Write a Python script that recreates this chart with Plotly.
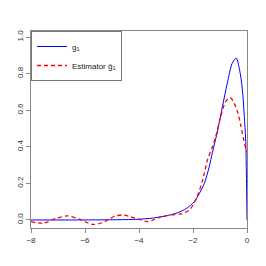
import plotly.graph_objects as go

# True density g1
x_true = [-8, -6, -5, -4.5, -4, -3.5, -3.17, -3.0, -2.56, -2.25, -1.95, -1.76, -1.58, -1.4,
          -1.28, -1.1, -0.91, -0.73, -0.55, -0.4, -0.25, -0.157, -0.1, -0.048, 0]
g1 = [0, 0, 0.001, 0.002, 0.004, 0.01, 0.018, 0.022, 0.04, 0.062, 0.10, 0.146, 0.20, 0.29,
      0.37, 0.48, 0.62, 0.747, 0.856, 0.885, 0.80, 0.69, 0.565, 0.437, 0.0]

# Estimator
x_est = [-8, -7.55, -7.06, -6.64, -6.21, -5.72, -5.36, -5.11, -4.87, -4.6, -4.32, -4.02, -3.71,
         -3.47, -3.17, -2.80, -2.44, -2.13, -1.95, -1.80, -1.64, -1.46, -1.28, -1.16, -0.975,
         -0.79, -0.61, -0.37, -0.22, -0.12, -0.025, 0]
g1_hat = [-0.009, -0.018, 0.009, 0.022, 0.004, -0.024, -0.015, 0.005, 0.022, 0.027, 0.018, 0.004,
          -0.009, 0.0, 0.018, 0.027, 0.033, 0.055, 0.095, 0.146, 0.22, 0.33, 0.40, 0.455, 0.565,
          0.647, 0.668, 0.60, 0.51, 0.437, 0.38, 0.37]

x_ticks = [-8, -6, -4, -2, 0]
y_ticks = [0.0, 0.2, 0.4, 0.6, 0.8, 1.0]

FONT = "Liberation Sans, Arial, sans-serif"

fig = go.Figure()
fig.add_trace(go.Scatter(x=x_true, y=g1, mode="lines", name="g<sub>1</sub>",
                         line=dict(color="blue", width=1, shape="spline", smoothing=0.8)))
fig.add_trace(go.Scatter(x=x_est, y=g1_hat, mode="lines", name="Estimator ĝ<sub>1</sub>",
                         line=dict(color="red", width=1.3, dash="4px,3px", shape="spline", smoothing=0.8)))

# page body has an 8px default margin; size/margins compensate so the plot area sits as in the reference
fig.update_layout(
    width=250, height=250,
    margin=dict(l=23, r=8, t=23, b=30),
    plot_bgcolor="white", paper_bgcolor="white",
    font=dict(family=FONT, size=8, color="#333"),
    showlegend=True,
    legend=dict(x=0, y=1, xanchor="left", yanchor="top", bgcolor="white",
                bordercolor="#777", borderwidth=1, font=dict(size=8, color="#222"),
                tracegroupgap=0, itemwidth=30),
)
fig.update_xaxes(range=[-8, 0], tickvals=x_ticks, ticktext=[str(v).replace("-", "−") for v in x_ticks],
                 showgrid=False, zeroline=False, showline=True, mirror=True, linecolor="#888",
                 linewidth=1, ticks="outside", ticklen=4, tickcolor="#888",
                 tickfont=dict(size=8, family=FONT, color="#333"))
fig.update_yaxes(range=[-0.044, 1.033], tickvals=y_ticks, ticktext=[f"{v:.1f}" for v in y_ticks],
                 tickangle=-90, showgrid=False, zeroline=False, showline=True, mirror=True,
                 linecolor="#888", linewidth=1, ticks="outside", ticklen=4, tickcolor="#888",
                 tickfont=dict(size=8, family=FONT, color="#333"))

fig.write_html("out.html")
